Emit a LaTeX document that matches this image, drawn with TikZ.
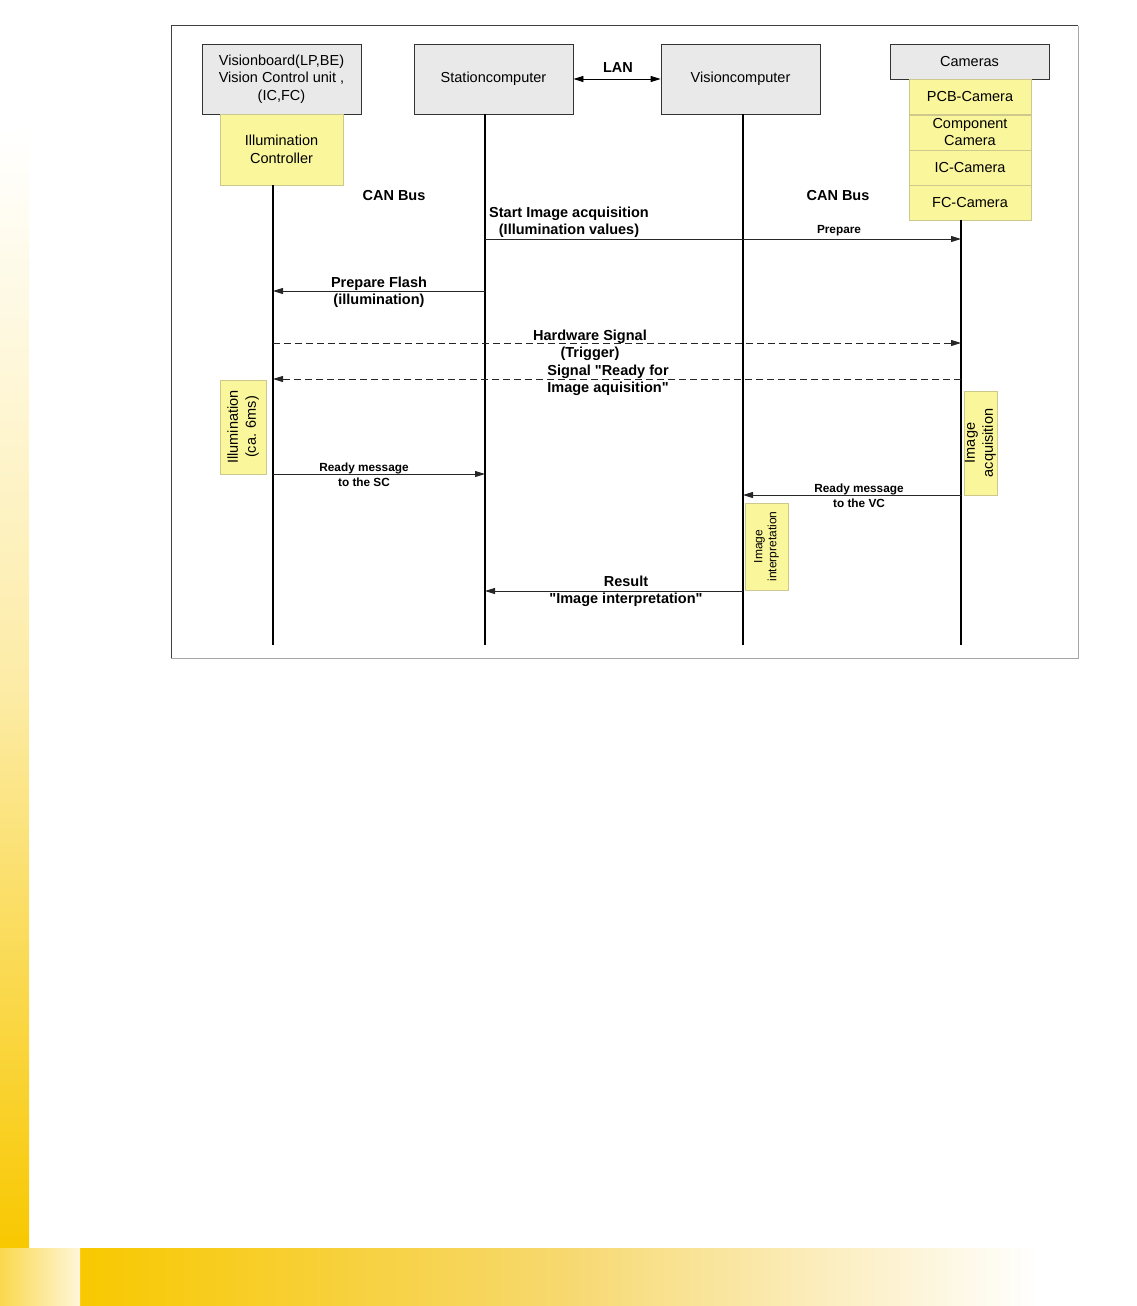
\documentclass[tikz,border=0pt]{standalone}
\usepackage{fontspec}
\setmainfont{Liberation Sans}[Ligatures=TeXOff]
\usetikzlibrary{arrows.meta}
\definecolor{ybox}{RGB}{250,246,155}
\definecolor{yborder}{RGB}{205,200,140}
\definecolor{gbox}{RGB}{233,233,233}
\definecolor{bgyel}{RGB}{248,200,0}
\definecolor{bgmid}{RGB}{247,216,110}
\tikzset{
  head/.style={draw=black!80, line width=0.8pt, fill=gbox, minimum width=159pt, minimum height=70pt, inner sep=0pt, align=center, font=\fontsize{14.5}{17.5}\selectfont},
  ycell/.style={draw=yborder, line width=0.6pt, fill=ybox, minimum width=122pt, minimum height=35pt, inner sep=0pt, align=center, font=\fontsize{14.5}{17}\selectfont},
  act/.style={draw=yborder, line width=0.6pt, fill=ybox, inner sep=0pt, align=center, rotate=90},
  life/.style={line width=2.8pt, black},
  msg/.style={line width=0.9pt, black!85, -{Triangle[length=10pt,width=6pt]}},
  dmsg/.style={msg, dash pattern=on 7pt off 4pt},
  lbl/.style={align=center, font=\bfseries\fontsize{14.5}{17}\selectfont, inner sep=0pt},
  slbl/.style={align=center, font=\bfseries\fontsize{11.8}{15}\selectfont, inner sep=0pt},
}
\begin{document}
\begin{tikzpicture}[x=1pt,y=-1pt]
\useasboundingbox (0,0) rectangle (1136,1306);
% background decorations
\shade[top color=white, bottom color=bgyel, middle color=bgyel!35] (0.5,129) rectangle (29,1248);
\shade[left color=bgyel, right color=white, middle color=bgmid] (80,1248) rectangle (1040,1306);
\shade[left color=bgyel!70, right color=bgyel!15] (0,1248) rectangle (80,1306);
% frame
\draw[black!35, line width=0.8pt] (1078,26) -- (1078,658) -- (171,658);
\draw[black!75, line width=1pt] (171,658) -- (171,26) -- (1078,26);
% heads
\node[head] (vb) at (281.5,79) {Visionboard(LP,BE)\\Vision Control unit ,\\(IC,FC)};
\node[ycell, minimum width=123pt, minimum height=71pt, font=\fontsize{14.5}{18}\selectfont] (ic) at (281.5,149.5) {Illumination\\Controller};
\node[head] (sc) at (493.5,79) {Stationcomputer};
\node[head] (vc) at (740.5,79) {Visioncomputer};
\node[head, minimum height=35pt] (cam) at (969.5,61.5) {Cameras};
\node[ycell] (pcb) at (970,97) {PCB-Camera};
\node[ycell] (comp) at (970,132.5) {Component\\Camera};
\node[ycell] (icc) at (970,167.5) {IC-Camera};
\node[ycell] (fcc) at (970,202.5) {FC-Camera};
% LAN
\draw[line width=0.8pt, {Triangle[length=10pt,width=6pt]}-{Triangle[length=10pt,width=6pt]}] (sc.east) -- (vc.east -| vc.west);
\node[lbl] (lan) at (618,68) {LAN};
% lifelines
\coordinate (l1) at (273,645);
\coordinate (l2) at (485,645);
\coordinate (l3) at (743,645);
\coordinate (l4) at (961,645);
\draw[life] (ic.south -| l1) -- (l1);
\draw[life] (sc.south -| l2) -- (l2);
\draw[life] (vc.south -| l3) -- (l3);
\draw[life] (fcc.south -| l4) -- (l4);
% CAN bus labels
\node[lbl] (can1) at (394,196) {CAN Bus};
\node[lbl] (can2) at (838,196) {CAN Bus};
% messages
\coordinate (m1a) at (485,239); \coordinate (m1b) at (961,239);
\draw[msg] (m1a) -- (m1b);
\node[lbl] (m1l) at (569,222) {Start Image acquisition\\(Illumination values)};
\node[slbl] (m1p) at (839,230.5) {Prepare};
\coordinate (m2a) at (485,291); \coordinate (m2b) at (273,291);
\draw[msg] (m2a) -- (m2b);
\node[lbl] (m2l) at (379,292) {Prepare Flash\\(illumination)};
\coordinate (m3a) at (273,343); \coordinate (m3b) at (961,343);
\draw[dmsg] (m3a) -- (m3b);
\node[lbl] (m3l) at (590,345) {Hardware Signal\\(Trigger)};
\coordinate (m4a) at (961,379); \coordinate (m4b) at (273,379);
\draw[dmsg] (m4a) -- (m4b);
\node[lbl] (m4l) at (608,380) {Signal "Ready for\\Image aquisition"};
\coordinate (m5a) at (273,474); \coordinate (m5b) at (485,474);
\draw[msg] (m5a) -- (m5b);
\node[slbl] (m5l) at (364,475) {Ready message\\to the SC};
\coordinate (m6a) at (961,495); \coordinate (m6b) at (743,495);
\draw[msg] (m6a) -- (m6b);
\node[slbl] (m6l) at (859,496) {Ready message\\to the VC};
\coordinate (m7a) at (743,591); \coordinate (m7b) at (485,591);
\draw[msg] (m7a) -- (m7b);
\node[lbl] (m7l) at (626,591) {Result\\"Image interpretation"};
% activation boxes
\node[act, minimum width=94pt, minimum height=46pt, font=\fontsize{14.5}{18}\selectfont] (ill) at (243,427) {Illumination\\(ca. 6ms)};
\node[act, minimum width=104pt, minimum height=33pt, font=\fontsize{14.5}{18}\selectfont] (acq) at (980.5,443) {Image\\acquisition};
\node[act, minimum width=87pt, minimum height=43pt, font=\fontsize{12}{14}\selectfont] (interp) at (766.5,546.5) {Image\\interpretation};
\end{tikzpicture}
\end{document}
